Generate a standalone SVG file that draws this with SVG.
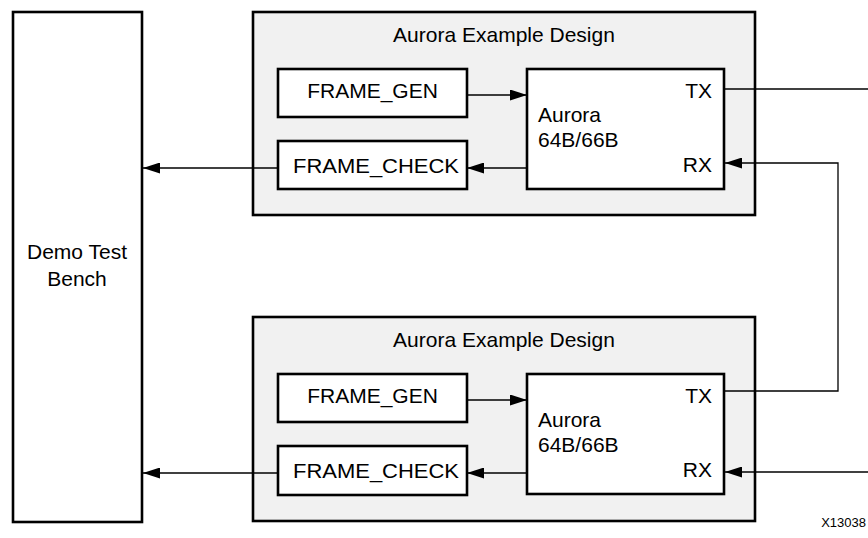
<svg xmlns="http://www.w3.org/2000/svg" width="868" height="538" viewBox="0 0 868 538">
<style>
.box{fill:#fff;stroke:#000;stroke-width:2.6}
.grp{fill:#f1f1f1;stroke:#000;stroke-width:2.6}
.t{font-family:"Liberation Sans",Arial,sans-serif;font-size:21px;fill:#000}
.m{text-anchor:middle}
.e{text-anchor:end}
.ln{fill:none;stroke:#000;stroke-width:1.3}
</style>
<defs>
<marker id="ah" markerUnits="userSpaceOnUse" markerWidth="17" markerHeight="11" refX="17" refY="5.5" orient="auto">
<path d="M0,0 L17,5.5 L0,11 z" fill="#000"/>
</marker>
</defs>
<rect width="868" height="538" fill="#fff"/>
<g id="demo-test-bench">
<rect class="box" x="13" y="12" width="129" height="510"/>
<text class="t m" x="77" y="259">Demo Test</text>
<text class="t m" x="77" y="286">Bench</text>
</g>
<g id="design-top">
<rect class="grp" x="253" y="12" width="502" height="203"/>
<text class="t m" x="504" y="42">Aurora Example Design</text>
</g>
<g id="frame-gen-top">
<rect class="box" x="278" y="69" width="189" height="48"/>
<text class="t m" x="372.5" y="97.5">FRAME_GEN</text>
</g>
<g id="frame-check-top">
<rect class="box" x="278" y="141" width="189" height="48"/>
<text class="t m" x="376" y="173" textLength="166" lengthAdjust="spacingAndGlyphs">FRAME_CHECK</text>
</g>
<g id="aurora-top">
<rect class="box" x="527" y="69" width="197" height="120"/>
<text class="t" x="538" y="122">Aurora</text>
<text class="t" x="538" y="147">64B/66B</text>
<text class="t e" x="712" y="97.5">TX</text>
<text class="t e" x="712" y="172">RX</text>
</g>
<g id="design-bottom">
<rect class="grp" x="253" y="317" width="502" height="204"/>
<text class="t m" x="504" y="347">Aurora Example Design</text>
</g>
<g id="frame-gen-bottom">
<rect class="box" x="278" y="374" width="189" height="48"/>
<text class="t m" x="372.5" y="402.5">FRAME_GEN</text>
</g>
<g id="frame-check-bottom">
<rect class="box" x="278" y="446" width="189" height="49"/>
<text class="t m" x="376" y="478" textLength="166" lengthAdjust="spacingAndGlyphs">FRAME_CHECK</text>
</g>
<g id="aurora-bottom">
<rect class="box" x="527" y="374" width="197" height="120"/>
<text class="t" x="538" y="427">Aurora</text>
<text class="t" x="538" y="452">64B/66B</text>
<text class="t e" x="712" y="402.5">TX</text>
<text class="t e" x="712" y="477">RX</text>
</g>
<g id="connectors">
<path class="ln" d="M467,95 H527" marker-end="url(#ah)"/>
<path class="ln" d="M527,168 H467" marker-end="url(#ah)"/>
<path class="ln" d="M278,168 H143" marker-end="url(#ah)"/>
<path class="ln" d="M724,89 H868"/>
<path class="ln" d="M724,391 H838 V163 H725" marker-end="url(#ah)"/>
<path class="ln" d="M467,400 H527" marker-end="url(#ah)"/>
<path class="ln" d="M527,473 H467" marker-end="url(#ah)"/>
<path class="ln" d="M278,473 H143" marker-end="url(#ah)"/>
<path class="ln" d="M868,472 H725" marker-end="url(#ah)"/>
</g>
<text x="866" y="527" font-family="'Liberation Sans',Arial,sans-serif" font-size="13" text-anchor="end" fill="#000">X13038</text>
</svg>
